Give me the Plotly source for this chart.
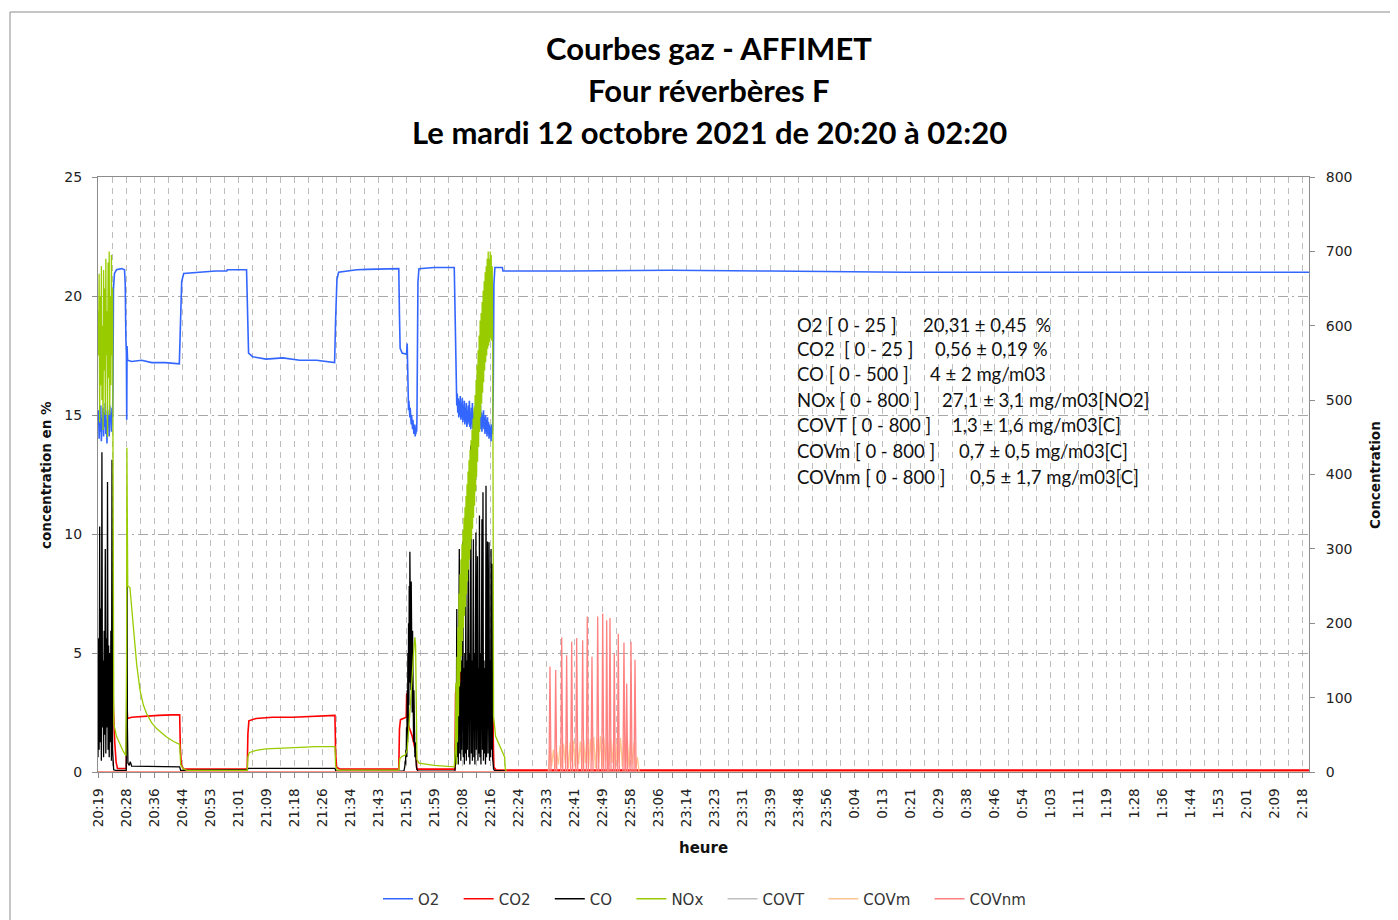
import numpy as np
import pandas as pd
import plotly.graph_objects as go

# ---------------------------------------------------------------- data ----
# time axis: minutes after 20:19:40 (12/10/2021)
START = pd.Timestamp("2021-10-12 20:19:40")
END_MIN = 360.33
TICK0 = pd.Timestamp("2021-10-12 20:19:45")
TICK_STEP_S = 500          # one label every 8 min 20 s
MINOR_STEP_S = 250         # one grid line every 4 min 10 s

x_labels = ["20:19", "20:28", "20:36", "20:44", "20:53", "21:01", "21:09", "21:18",
            "21:26", "21:34", "21:43", "21:51", "21:59", "22:08", "22:16", "22:24",
            "22:33", "22:41", "22:49", "22:58", "23:06", "23:14", "23:23", "23:31",
            "23:39", "23:48", "23:56", "0:04", "0:13", "0:21", "0:29", "0:38",
            "0:46", "0:54", "1:03", "1:11", "1:19", "1:28", "1:36", "1:44",
            "1:53", "2:01", "2:09", "2:18"]

# ---- O2 (% , left axis)
o2_b1_start, o2_b1_step = 0.0, 1 / 6
o2_b1 = [14.6, 15.2, 14.0, 15.0, 14.3, 15.4, 13.9, 14.9, 14.4, 15.3, 14.1, 15.1, 14.5, 15.5,
         14.2, 14.8, 13.8, 15.2, 14.6, 15.0, 14.1, 15.4, 14.7, 15.1, 14.3, 15.3, 14.9]
o2_b2_start, o2_b2_step = 92.1, 0.1
o2_b2 = [16.5, 15.6, 15.9, 15.2, 15.6, 15.0, 15.4, 14.9, 15.3, 14.7, 15.2, 14.6, 15.0, 14.5,
         14.9, 14.4, 14.8, 14.3, 14.7, 14.2, 14.6, 14.3, 14.5, 14.1, 14.4, 14.2, 14.6, 14.3, 14.8]
o2_b3_start, o2_b3_step = 106.6, 0.15
o2_b3 = [16.2, 15.4, 15.9, 15.1, 15.7, 14.9, 15.6, 15.0, 15.8, 14.8, 15.5, 14.9, 15.7, 14.7,
         15.4, 14.8, 15.6, 14.6, 15.3, 14.7, 15.5, 14.5, 15.2, 14.6, 15.4, 14.7, 15.6, 14.5,
         15.1, 14.4, 15.3, 14.6, 15.5, 14.4, 15.0, 14.5, 15.2, 14.3, 15.4, 14.6, 15.1, 14.4,
         15.3, 14.5, 15.0, 14.3, 15.2, 14.6, 15.4, 14.4, 15.1, 14.3, 15.0, 14.5, 15.2, 14.4,
         14.9, 14.2, 15.0, 14.3, 14.8, 14.1, 14.9, 14.2, 14.7, 14.0, 14.6, 14.1, 14.5, 13.9,
         14.6, 14.2, 14.4]
o2_t = [4.45, 4.6, 4.9, 5.5, 7.0, 7.9, 8.1, 8.3, 8.45, 8.55, 8.65, 8.8, 10, 13, 16, 20, 24.2,
        24.5, 24.9, 25.5, 30, 35, 38.3, 38.5, 44.2, 44.5, 44.8, 46, 50, 55, 60, 65, 70.4,
        70.7, 71.1, 71.6, 74, 77, 80, 89.5, 89.7, 89.9, 90.5, 91.8, 92.0,
        95.0, 95.2, 95.5, 100, 106.0, 106.2, 106.4, 106.5,
        117.6, 117.8, 118.1, 120.3, 120.5, 140, 170, 200, 230, 240, 300, END_MIN]
o2_v = [16.0, 20.3, 20.95, 21.1, 21.15, 21.1, 20.5, 18.2, 17.6, 14.8, 17.9, 17.3, 17.25, 17.3,
        17.2, 17.2, 17.15, 18.5, 20.6, 20.95, 21.0, 21.05, 21.05, 21.1, 21.1, 19.5, 17.6,
        17.45, 17.35, 17.4, 17.3, 17.3, 17.2, 19.0, 20.7, 21.0, 21.05, 21.1, 21.12, 21.15,
        19.2, 17.8, 17.6, 17.55, 18.0,
        16.5, 20.6, 21.15, 21.2, 21.2, 19.5, 17.0, 16.2,
        16.0, 20.5, 21.2, 21.2, 21.05, 21.05, 21.08, 21.05, 21.03, 21.0, 21.0, 21.0]

# ---- CO2 (% , left axis)
co2_b1_start, co2_b1_step = 0.0, 1 / 6
co2_b1 = [4.3, 4.5, 4.1, 4.4, 4.2, 4.6, 4.0, 4.3, 4.5, 4.1, 4.4, 4.2, 4.3, 4.6, 4.0, 4.4,
          4.2, 4.5, 4.1, 4.3, 4.4, 4.0, 4.3, 4.5, 4.2, 4.4, 4.3]
co2_b3_start, co2_b3_step = 106.5, 0.3
co2_b3 = [3.4, 3.8, 3.6, 4.0, 3.7, 4.2, 3.9, 4.3, 3.8, 4.1, 3.6, 4.3, 3.9, 4.2, 3.7, 4.4,
          4.0, 4.2, 3.8, 4.3, 3.9, 4.1, 3.7, 4.3, 4.0, 4.2, 3.8, 4.4, 3.9, 4.1, 3.7, 4.2,
          4.0, 4.3, 3.8, 4.1, 3.9]
co2_t = [4.45, 4.6, 5.0, 5.4, 5.8, 8.4, 8.55, 8.65, 8.8, 10, 14, 18, 22, 24.3, 24.5, 24.8,
         25.5, 44.4, 44.6, 44.9, 47, 52, 58, 64, 70.5, 70.7, 71.0, 72, 89.5, 89.7, 90.0,
         91.7, 91.85, 92.0, 92.3, 93.5, 94.6, 94.9, 106.2, 106.4,
         117.5, 117.6, 117.8, 118.5, END_MIN]
co2_v = [3.4, 2.6, 1.2, 0.4, 0.15, 0.15, 2.0, 2.7, 2.25, 2.3, 2.35, 2.38, 2.4, 2.4, 1.0, 0.3,
         0.12, 0.12, 1.6, 2.15, 2.25, 2.3, 2.3, 2.35, 2.38, 0.8, 0.2, 0.12, 0.12, 1.8, 2.2,
         2.3, 3.3, 2.6, 2.0, 1.5, 0.8, 0.12, 0.12, 3.3,
         3.8, 1.45, 0.2, 0.08, 0.08]

# ---- CO (mg/m03, right axis)
co_b1_start, co_b1_step = 0.0, 1 / 6
co_b1 = [20, 180, 30, 330, 40, 220, 15, 430, 60, 150, 20, 190, 50, 300, 25, 180, 60, 390,
         30, 170, 20, 160, 40, 190, 15, 420, 30, 8, 3]
co_b2_start, co_b2_step = 91.1, 0.1
co_b2 = [3, 5, 8, 15, 10, 30, 20, 60, 20, 110, 40, 160, 60, 200, 90, 250, 120, 296, 150, 270,
         110, 256, 100, 230, 80, 190, 60, 150, 40, 110, 30, 70, 20, 40, 15, 10, 8, 5, 3, 2]
co_b3_start, co_b3_step = 106.3, 0.15
co_b3 = [10, 60, 15, 219, 20, 110, 10, 140, 300, 25, 120, 15, 150, 30, 130, 309, 20, 140, 10,
         160, 25, 250, 15, 150, 30, 130, 340, 20, 160, 10, 140, 439, 25, 150, 15, 130, 313,
         20, 160, 10, 140, 322, 30, 150, 290, 15, 140, 25, 345, 20, 160, 10, 130, 340, 30,
         376, 15, 150, 25, 140, 10, 385, 20, 150, 310, 25, 130, 309, 15, 150, 20, 300, 30,
         280, 20, 8]
co_t = [5.5, 8.4, 8.55, 8.65, 8.75, 8.9, 9.3, 9.6, 10, 24.3, 24.6, 44.4, 44.7, 70.5, 70.8,
        91.0, 95.2, 106.2, 117.7, 118.0, 121.0, 121.3, END_MIN]
co_v = [2, 2, 120, 260, 60, 12, 9, 14, 8, 7, 2, 3, 5, 5, 1,
        1, 1, 1, 4, 2, 1.5, 0, 0]

# ---- NOx (mg/m03[NO2], right axis)
nox_b1_start, nox_b1_step = 0.0, 1 / 6
nox_b1 = [620, 560, 670, 470, 640, 520, 680, 500, 600, 460, 675, 540, 650, 480, 690, 560,
          620, 450, 685, 530, 700, 480, 640, 520, 695, 560, 650]
nox_b3_start, nox_b3_step = 106.35, 0.15
nox_b3 = [35, 120, 10, 155, 40, 195, 75, 240, 115, 266, 135, 286, 156, 306, 176, 325, 194,
          342, 210, 356, 222, 371, 239, 387, 256, 404, 272, 419, 286, 433, 299, 446, 313,
          460, 327, 475, 342, 490, 358, 507, 377, 527, 397, 547, 417, 567, 437, 587, 457,
          607, 477, 617, 495, 632, 510, 647, 524, 660, 540, 672, 551, 680, 560, 690, 569,
          700, 573, 690, 578, 700, 583, 695, 580, 680, 570]
nox_t = [4.45, 4.55, 4.7, 5.5, 6.5, 7.5, 8.3, 8.5, 8.6, 8.7, 8.85, 9.5, 10.5, 11.5, 12.5,
         13.5, 14.5, 16, 17.5, 20.4, 22.5, 24.3, 24.6, 25.3, 26.5, 44.4, 44.6, 45, 47, 50,
         55, 60, 65, 70.5, 70.7, 71.2, 89.5, 89.8, 90.5, 91.5, 92.0, 92.5, 93.0, 93.5, 93.9,
         94.3, 94.5, 94.7, 94.9, 95.5, 100, 106.0, 106.2,
         117.6, 117.7, 118.3, 119.5, 120.5, 121.0, 121.2, 121.6, END_MIN]
nox_v = [420, 120, 65, 48, 37, 28, 22, 150, 436, 300, 250, 248, 195, 145, 110, 90, 78, 66,
         58, 47, 41, 37, 10, 4.5, 2.2, 2.2, 20, 26, 29, 31, 32, 33, 34, 34, 8, 2.5, 2.5, 18,
         21, 23, 30, 60, 90, 130, 160, 181, 170, 40, 17, 12, 9, 7, 20,
         300, 75, 48, 36, 25, 20, 3, 0.5, 0.5]

# ---- COVT (mg/m03[C], right axis)
covt_t = [0.0, END_MIN]
covt_v = [0.0, 0.0]

# ---- COVm (mg/m03[C], right axis)
covm_b_start, covm_b_step = 134.0, 0.5
covm_b = [0, 34, 8, 30, 5, 26, 10, 36, 6, 38, 12, 41, 5, 40, 14, 42, 6, 39, 10, 41, 4, 43,
          12, 46, 7, 44, 15, 47, 5, 45, 12, 48, 6, 46, 14, 47, 8, 45, 12, 47, 5, 44, 13, 46,
          7, 43, 12, 45, 6, 42, 10, 40, 5, 20, 0]
covm_t = [0.0, 161.5, END_MIN]
covm_v = [0.0, 0.0, 0.0]

# ---- COVnm (mg/m03[C], right axis)
covnm_t = [0.0, 134.2, 134.48, 134.8, 135.9, 136.18, 136.5, 137.7, 137.97, 138.3, 139.15,
           139.45, 139.75, 140.65, 140.94, 141.25, 142.15, 142.43, 142.75, 143.9, 144.21,
           144.5, 145.3, 145.58, 145.9, 146.7, 146.98, 147.3, 148.4, 148.68, 149.0, 149.9,
           150.17, 150.5, 151.1, 151.36, 151.65, 152.05, 152.34, 152.65, 153.35, 153.62,
           153.9, 154.55, 154.81, 155.1, 156.2, 156.5, 156.8, 157.05, 157.31, 157.6, 158.3,
           158.59, 158.9, 159.5, 159.78, 160.1, END_MIN]
covnm_v = [0, 0, 142, 0, 0, 137, 0, 0, 181, 0, 0, 157, 0, 0, 175, 0, 0, 180, 0, 0, 177, 0,
           0, 209, 0, 0, 155, 0, 0, 209, 0, 0, 213, 0, 0, 204, 0, 0, 207, 0, 0, 160, 0, 0,
           186, 0, 0, 174, 0, 0, 119, 0, 0, 175, 0, 0, 151, 0, 0]

info_left = ["O2 [ 0 - 25 ]", "CO2  [ 0 - 25 ]", "CO [ 0 - 500 ]", "NOx [ 0 - 800 ]",
             "COVT [ 0 - 800 ]", "COVm [ 0 - 800 ]", "COVnm [ 0 - 800 ]"]
info_right = ["20,31 ± 0,45  %", "0,56 ± 0,19 %", "4 ± 2 mg/m03", "27,1 ± 3,1 mg/m03[NO2]",
              "1,3 ± 1,6 mg/m03[C]", "0,7 ± 0,5 mg/m03[C]", "0,5 ± 1,7 mg/m03[C]"]

title_lines = ["Courbes gaz - AFFIMET", "Four réverbères F",
               "Le mardi 12 octobre 2021 de 20:20 à 02:20"]


# ------------------------------------------------------------- helpers ----
def burst(start, step, vals):
    return list(start + step * np.arange(len(vals))), list(vals)


def assemble(*parts):
    t, v = [], []
    for pt, pv in parts:
        t += list(pt)
        v += list(pv)
    order = np.argsort(np.array(t), kind="stable")
    t = np.array(t)[order]
    v = np.array(v, dtype=float)[order]
    return START + pd.to_timedelta(t, unit="m"), v


o2_x, o2_y = assemble(burst(o2_b1_start, o2_b1_step, o2_b1), burst(o2_b2_start, o2_b2_step, o2_b2),
                      burst(o2_b3_start, o2_b3_step, o2_b3), (o2_t, o2_v))
co2_x, co2_y = assemble(burst(co2_b1_start, co2_b1_step, co2_b1),
                        burst(co2_b3_start, co2_b3_step, co2_b3), (co2_t, co2_v))
co_x, co_y = assemble(burst(co_b1_start, co_b1_step, co_b1), burst(co_b2_start, co_b2_step, co_b2),
                      burst(co_b3_start, co_b3_step, co_b3), (co_t, co_v))
nox_x, nox_y = assemble(burst(nox_b1_start, nox_b1_step, nox_b1),
                        burst(nox_b3_start, nox_b3_step, nox_b3), (nox_t, nox_v))
covt_x, covt_y = assemble((covt_t, covt_v))
covm_x, covm_y = assemble(burst(covm_b_start, covm_b_step, covm_b), (covm_t, covm_v))
covnm_x, covnm_y = assemble((covnm_t, covnm_v))

# --------------------------------------------------------------- figure ----
# the page body has an 8px margin: the figure is placed at (8, 8)
OFF = 8
W, H = 1390, 920
L, R, T, B = 90, 89, 169, 156
PX0, PY1 = OFF + L, OFF + H - B          # plot left / bottom in screen pixels
PW, PH = W - L - R, H - T - B


def px(x):  # screen pixel x -> paper
    return (x - PX0) / PW


def py(y):  # screen pixel y -> paper
    return (PY1 - y) / PH


TICK_FONT = "DejaVu Sans"
fig = go.Figure()
series = [
    ("O2", o2_x, o2_y, "#3366FF", 1.6, "y"),
    ("CO2", co2_x, co2_y, "#FF0000", 1.6, "y"),
    ("CO", co_x, co_y, "#000000", 1.3, "y2"),
    ("NOx", nox_x, nox_y, "#99CC00", 1.3, "y2"),
    ("COVT", covt_x, covt_y, "#C0C0C0", 1.5, "y2"),
    ("COVm", covm_x, covm_y, "#FFC58F", 1.3, "y2"),
    ("COVnm", covnm_x, covnm_y, "#FF8080", 1.3, "y2"),
]
PAD = "\u00a0" * 3
for name, x, y, c, w, ax in series:
    fig.add_trace(go.Scatter(x=x, y=y, name=name + PAD, mode="lines", yaxis=ax,
                             line=dict(color=c, width=w)))

tickvals = [TICK0 + pd.Timedelta(seconds=TICK_STEP_S * i) for i in range(len(x_labels))]
n_minor = int(END_MIN * 60 // MINOR_STEP_S) + 1
minorvals = [TICK0 + pd.Timedelta(seconds=MINOR_STEP_S * i) for i in range(n_minor)]

GRID_V = "#BDBDBD"
GRID_H = "#A8A8A8"
AXIS = "#8C8C8C"

fig.update_layout(
    width=W, height=H, autosize=False,
    margin=dict(l=L, r=R, t=T, b=B),
    paper_bgcolor="white", plot_bgcolor="white",
    showlegend=True,
    legend=dict(orientation="h", x=px(712), xanchor="center", y=py(899), yanchor="middle",
                font=dict(family=TICK_FONT, size=15, color="#333333"), itemwidth=30),
    xaxis=dict(type="date", range=[START, START + pd.Timedelta(minutes=END_MIN)],
               tickmode="array", tickvals=tickvals, ticktext=x_labels, tickangle=-90,
               tickfont=dict(family=TICK_FONT, size=13.5, color="#222222"),
               ticks="outside", ticklen=5, tickcolor=AXIS, ticklabelstandoff=5,
               showline=True, linecolor=AXIS, linewidth=1, mirror=True,
               showgrid=True, gridcolor=GRID_V, griddash="6px,5px", gridwidth=1,
               minor=dict(tickmode="array", tickvals=minorvals, ticks="outside", ticklen=5,
                          tickcolor=AXIS, showgrid=True, gridcolor=GRID_V,
                          griddash="6px,5px", gridwidth=1),
               zeroline=False),
    yaxis=dict(range=[0, 25], tickmode="linear", tick0=0, dtick=5,
               tickfont=dict(family=TICK_FONT, size=14, color="#222222"),
               ticks="outside", ticklen=5, tickcolor=AXIS, ticklabelstandoff=7,
               showline=True, linecolor=AXIS, linewidth=1,
               showgrid=True, gridcolor=GRID_H, griddash="10px,4px,2px,4px", gridwidth=1,
               zeroline=False),
    yaxis2=dict(range=[0, 800], tickmode="linear", tick0=0, dtick=100, overlaying="y",
                side="right", tickfont=dict(family=TICK_FONT, size=14, color="#222222"),
                ticks="outside", ticklen=5, tickcolor=AXIS, ticklabelstandoff=8,
                showline=True, linecolor=AXIS, linewidth=1, showgrid=False, zeroline=False),
)

annotations = []
for i, line in enumerate(title_lines):
    annotations.append(dict(text=f"<b>{line}</b>", x=px(709), y=py(48 + 42 * i),
                            xref="paper", yref="paper", xanchor="center", yanchor="middle",
                            showarrow=False, font=dict(family="Lato", size=31, color="#000000")))
annotations.append(dict(text="<b>heure</b>", x=px(703), y=py(848), xref="paper", yref="paper",
                        xanchor="center", yanchor="middle", showarrow=False,
                        font=dict(family=TICK_FONT, size=15, color="#111111")))
annotations.append(dict(text="<b>concentration en %</b>", x=px(46), y=py(475), xref="paper",
                        yref="paper", xanchor="center", yanchor="middle", textangle=-90,
                        showarrow=False, font=dict(family=TICK_FONT, size=13.5, color="#111111")))
annotations.append(dict(text="<b>Concentration</b>", x=px(1375), y=py(475), xref="paper",
                        yref="paper", xanchor="center", yanchor="middle", textangle=-90,
                        showarrow=False, font=dict(family=TICK_FONT, size=13.5, color="#111111")))
info_y = [325, 349, 374, 400, 425, 451, 477]
info_rx = [921, 933, 928, 940, 950, 957, 968]
for i in range(len(info_left)):
    annotations.append(dict(text=info_left[i], x=px(795), y=py(info_y[i]), xref="paper",
                            yref="paper", xanchor="left", yanchor="middle", showarrow=False,
                            font=dict(family="Lato", size=18.5, color="#111111")))
    annotations.append(dict(text=info_right[i], x=px(info_rx[i]), y=py(info_y[i]),
                            xref="paper", yref="paper", xanchor="left", yanchor="middle",
                            showarrow=False, font=dict(family="Lato", size=18.5, color="#111111")))
fig.update_layout(annotations=annotations)

fig.add_shape(type="rect", xref="paper", yref="paper", x0=px(10), x1=px(1420), y0=py(960),
              y1=py(12), line=dict(color="#8C8C8C", width=1), fillcolor="rgba(0,0,0,0)",
              layer="below")

fig.write_html("out.html")
